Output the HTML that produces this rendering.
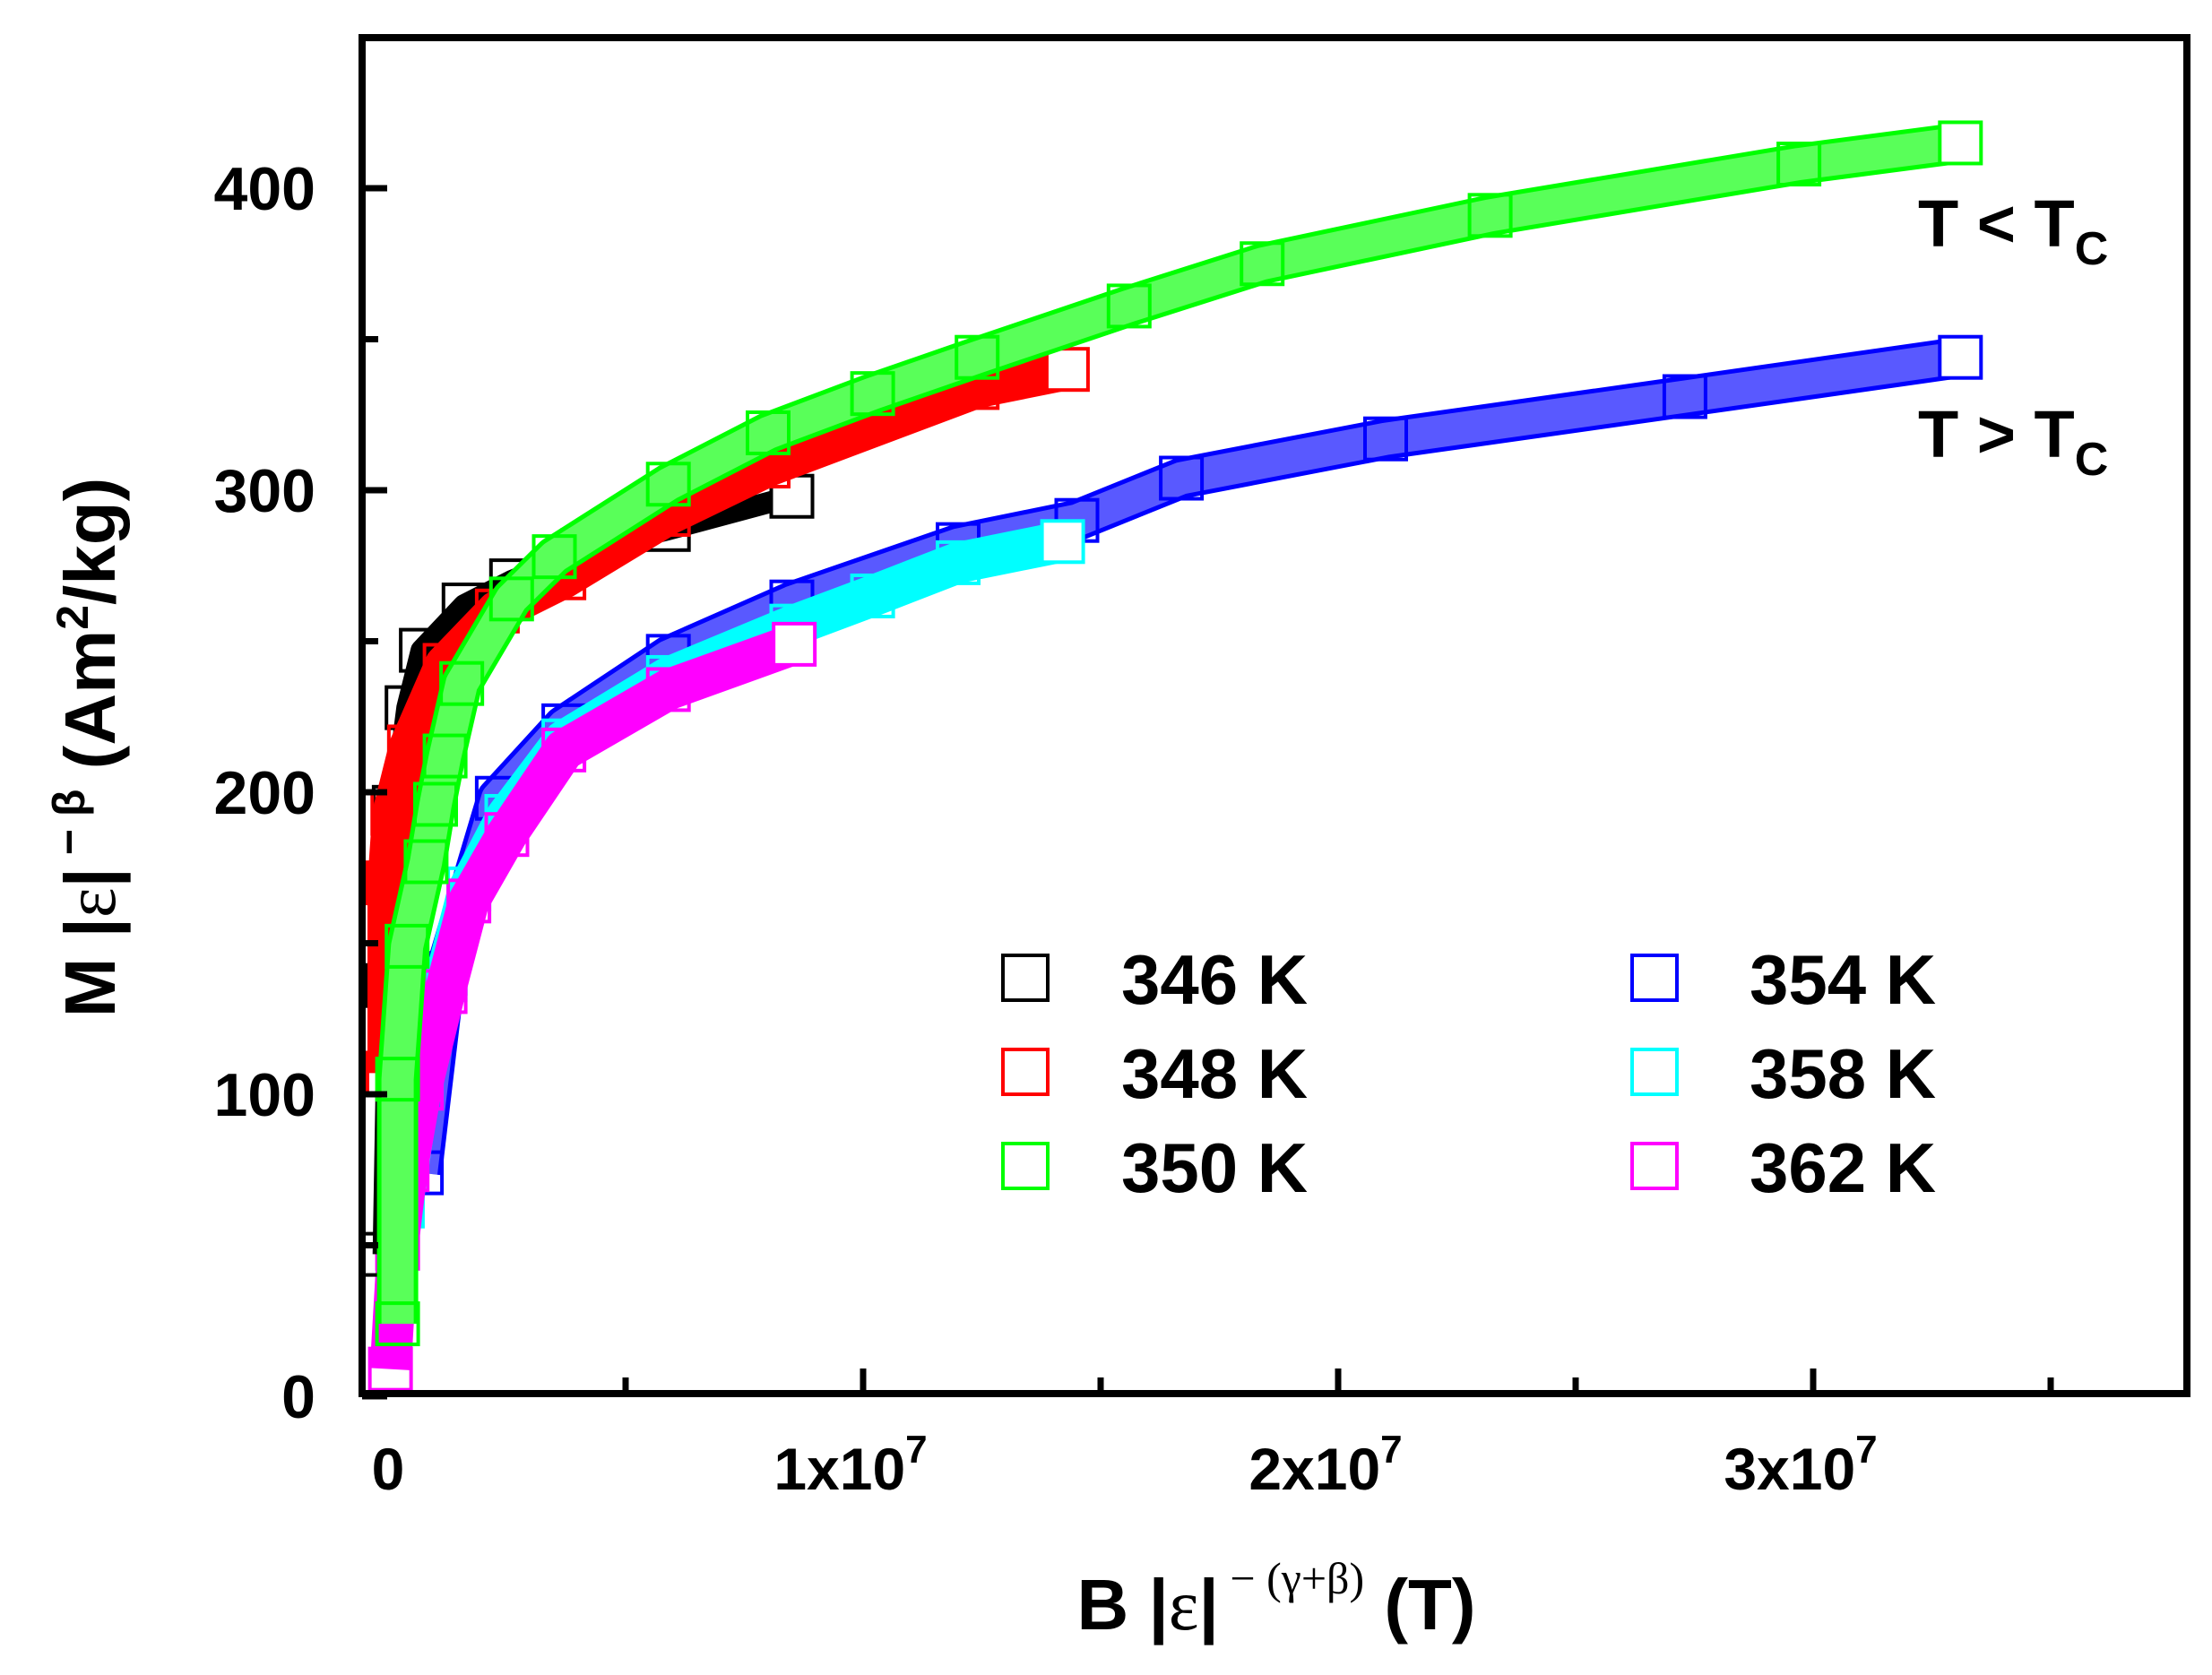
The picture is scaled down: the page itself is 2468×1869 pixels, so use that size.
<!DOCTYPE html>
<html><head><meta charset="utf-8"><style>
html,body{margin:0;padding:0;background:#fff;}
svg{display:block;font-family:"Liberation Sans",Arial,sans-serif;font-weight:bold;}
</style></head><body>
<svg id="chart" width="2468" height="1869" viewBox="0 0 2468 1869" xmlns="http://www.w3.org/2000/svg">
<rect x="0" y="0" width="2468" height="1869" fill="#fff"/>
<g id="plot"></g>
<rect x="404" y="42" width="2036" height="1513" fill="none" stroke="#000" stroke-width="8"/>
<g id="axes"></g>
<text x="128" y="834" transform="rotate(-90 128 834)" text-anchor="middle" font-size="80">M |<tspan font-family="Liberation Serif" font-weight="normal">ε</tspan>|<tspan dy="-34" font-size="50"> − β</tspan><tspan dy="34"> (Am</tspan><tspan dy="-30" font-size="50">2</tspan><tspan dy="30">/kg)</tspan></text>
<text x="1424" y="1818" text-anchor="middle" font-size="80">B  |<tspan font-family="Liberation Serif" font-weight="normal">ε</tspan>|<tspan dy="-40" font-size="50" font-family="Liberation Serif" font-weight="normal"> − (γ+β)</tspan><tspan dy="40"> (T)</tspan></text>
<text x="2140" y="275" font-size="74">T &lt; T<tspan dy="20" font-size="52">C</tspan></text>
<text x="2140" y="510" font-size="74">T &gt; T<tspan dy="20" font-size="52">C</tspan></text>
<g id="legend"></g>
</svg>
<script>
const ns="http://www.w3.org/2000/svg";
// x in units of 1e7 T, y in Am2/kg
const seriesNames=["354 K","358 K","362 K","346 K","348 K","350 K"];
const seriesColors=["#0000ff","#00ffff","#ff00ff","#000000","#ff0000","#00ff00"];
const x354=[0.07,0.12,0.23,0.37,0.59,0.85,1.2,1.45,1.67,2.10,2.73,3.31];
const y354=[74,140,198,222,245,263,282,290,304,317,331,344];
const x358=[0.03,0.07,0.12,0.17,0.25,0.37,0.59,0.85,1.02,1.2,1.42];
const y358=[63,105,138,168,192,217,238,255,265,276,283];
const x362=[0.005,0.02,0.04,0.07,0.12,0.17,0.25,0.37,0.59,0.855];
const y362=[9,49,75,102,134,164,186,214,234,249];
const x346=[-0.01,0.0,0.013,0.04,0.07,0.16,0.26,0.41,0.59,0.85];
const y346=[47,136,195,228,247,262,270,280,287,298];
const x348=[0.0,0.0,0.01,0.045,0.12,0.23,0.37,0.59,0.80,1.24,1.43];
const y348=[107,170,193,215,242,260,271,292,308,334,340];
const x350=[0.02,0.02,0.04,0.08,0.10,0.12,0.155,0.26,0.35,0.59,0.80,1.02,1.24,1.56,1.84,2.32,2.97,3.31];
const y350=[24,105,149,177,196,212,236,264,278,302,319,332,344,361,375,391,408,415];
const xs=[x354,x358,x362,x346,x348,x350];
const ys=[y354,y358,y362,y346,y348,y350];
const yTicks=[0,100,200,300,400];
const xTicks=[0,1,2,3];
const xTickLabels=["0","1x10","2x10","3x10"];
const X=v=>433+v*530;
const Y=v=>1558-v*3.37;
const M=46;
function mk(tag,attrs,parent){const e=document.createElementNS(ns,tag);for(const k in attrs)e.setAttribute(k,attrs[k]);parent.appendChild(e);return e;}
const plot=document.getElementById('plot');
const hollow=[true,false,false,false,false,true];
const widths=[M,M,M,24,M,M];
for(let s=0;s<6;s++){
  const g=mk('g',{},plot);
  
  
  const pts=xs[s].map((v,i)=>X(v)+','+Y(ys[s][i])).join(' ');
  const band=mk('polyline',{points:pts,fill:'none',stroke:seriesColors[s],'stroke-width':widths[s],'stroke-linejoin':'round','stroke-linecap':'butt'},g);
  
  
  if(hollow[s]){
    const inner=mk('polyline',{points:pts,fill:'none',stroke:'rgba(255,255,255,0.35)','stroke-width':M-10,'stroke-linejoin':'round'},g);
    
    
  }
  const n=xs[s].length;
  xs[s].forEach((v,i)=>{
    const last=(i===n-1);
    const r=mk('rect',{x:X(v)-M/2,y:Y(ys[s][i])-M/2,width:M,height:M,fill:last?'#fff':'none',stroke:seriesColors[s],'stroke-width':4},g);
    
    
  });
}
const axes=document.getElementById('axes');
yTicks.forEach(v=>{
  const t=mk('line',{x1:404,x2:432,y1:Y(v),y2:Y(v),stroke:'#000','stroke-width':7},axes);
  
  
  const m=mk('line',{x1:404,x2:422,y1:Y(v+50),y2:Y(v+50),stroke:'#000','stroke-width':7},axes);
  
  
  const l=mk('text',{x:352,y:Y(v)+24,'text-anchor':'end','font-size':68},axes);
  l.textContent=String(v);
  
  
});
for(let i=0;i<4;i++){
  const m=mk('line',{x1:X(i+0.5),x2:X(i+0.5),y1:1555,y2:1537,stroke:'#000','stroke-width':7},axes);
  
  
}
xTicks.forEach((v,i)=>{
  if(v>0){const t=mk('line',{x1:X(v),x2:X(v),y1:1555,y2:1527,stroke:'#000','stroke-width':7},axes);
  
  }
  const l=mk('text',{x:X(v)-(v>0?14:0),y:1662,'text-anchor':'middle','font-size':66},axes);
  l.textContent=xTickLabels[i];
  if(v>0){const sp=mk('tspan',{dy:-30,'font-size':44},l);sp.textContent='7';}
  
  
});
const legendOrder=[3,4,5,0,1,2];
const leg=document.getElementById('legend');
legendOrder.forEach((s,k)=>{
  const col=Math.floor(k/3),row=k%3;
  const sx=col?1846:1144, ty=1091+row*105;
  const r=mk('rect',{x:sx-25,y:ty-25,width:50,height:50,fill:'none',stroke:seriesColors[s],'stroke-width':4},leg);
  
  
  const t=mk('text',{x:col?1952:1251,y:ty+29,'font-size':78},leg);
  t.textContent=seriesNames[s];
  
  
});
</script>
</body></html>
